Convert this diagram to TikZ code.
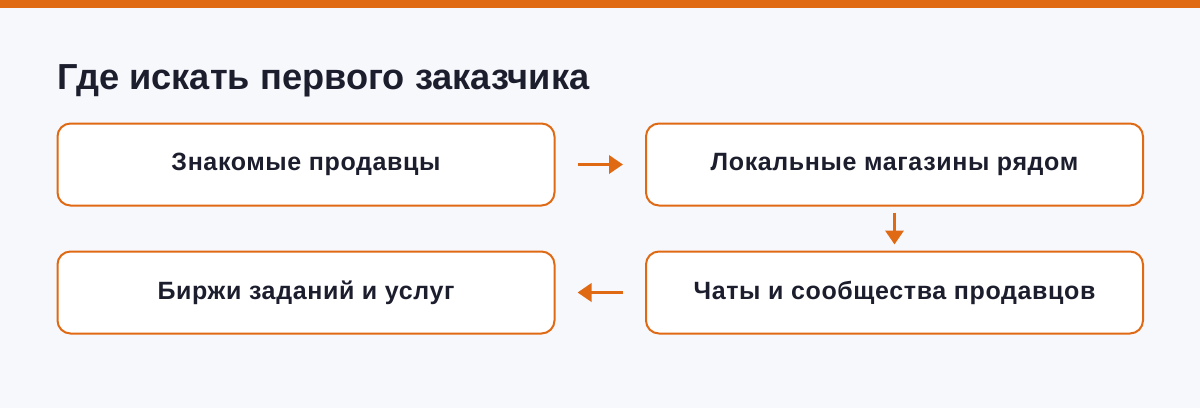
\documentclass[tikz,border=0pt]{standalone}
\usepackage{fontspec}
\setmainfont{Liberation Sans}
\newfontfamily\boxfont[LetterSpace=2.5]{Liberation Sans}
\usetikzlibrary{arrows.meta}
\definecolor{bgc}{HTML}{F7F8FC}
\definecolor{orc}{HTML}{E06A14}
\definecolor{txc}{HTML}{1C1E2E}
\tikzset{
  stepbox/.style={draw=orc, line width=2pt, fill=white, rounded corners=13pt,
    minimum width=497pt, minimum height=82pt, inner sep=0pt,
    font=\boxfont\fontsize{25}{29}\selectfont\bfseries, text=txc},
  flow/.style={draw=orc, line width=3.5pt, -{Triangle[length=14pt,width=18pt]}}
}
\begin{document}
\begin{tikzpicture}[x=1pt,y=-1pt]
\fill[bgc] (0,0) rectangle (1200,408);
\fill[orc] (0,0) rectangle (1200,8);
\useasboundingbox (0,0) rectangle (1200,408);
\node[anchor=base west, inner sep=0pt, text=txc, font=\fontsize{36.2}{40}\selectfont\bfseries] (title) at (57,89.5) {Где искать первого заказчика};
\node[stepbox] (b1) at (306,164.5) {Знакомые продавцы};
\node[stepbox] (b2) at (894.5,164.5) {Локальные магазины рядом};
\node[stepbox] (b4) at (894.5,292.5) {Чаты и сообщества продавцов};
\node[stepbox] (b3) at (306,292.5) {Биржи заданий и услуг};
\draw[flow] ([xshift=22pt]b1.east) -- ([xshift=-22pt]b2.west);
\draw[flow] ([yshift=-6pt]b2.south) -- ([yshift=6pt]b4.north);
\draw[flow] ([xshift=-22pt]b4.west) -- ([xshift=22pt]b3.east);
\end{tikzpicture}
\end{document}
